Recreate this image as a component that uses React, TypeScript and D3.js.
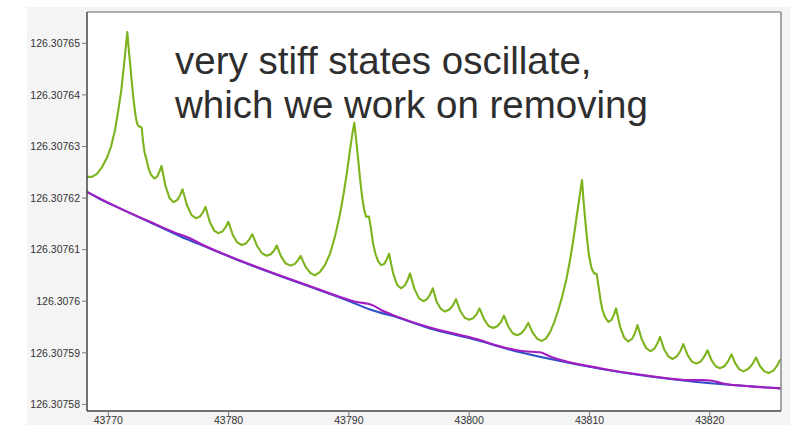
import React from "react";
import * as d3 from "d3";

// ---- data ----
const xTicks = [43770, 43780, 43790, 43800, 43810, 43820];
const xTickLabels = ["43770", "43780", "43790", "43800", "43810", "43820"];
const yTicks = [126.30758, 126.30759, 126.3076, 126.30761, 126.30762, 126.30763, 126.30764, 126.30765];
const yTickLabels = ["126.30758", "126.30759", "126.3076", "126.30761", "126.30762", "126.30763", "126.30764", "126.30765"];

const annotation = ["very stiff states oscillate,", "which we work on removing"];

// green (oscillating stiff state)
const greenX = [
  43768.23, 43768.64, 43769.06, 43769.48, 43769.89, 43770.22, 43770.56, 43770.81, 43771.06, 43771.26,
  43771.43, 43771.58, 43771.72, 43771.85, 43771.97, 43772.09, 43772.26, 43772.39, 43772.51, 43772.68,
  43772.78, 43772.88, 43773.01, 43773.18, 43773.34, 43773.55, 43773.84, 43774.05, 43774.26, 43774.42,
  43774.76, 43775.09, 43775.42, 43775.72, 43775.96, 43776.17,
  43776.54, 43776.92, 43777.29, 43777.61, 43777.86, 43778.08,
  43778.43, 43778.80, 43779.14, 43779.48, 43779.74, 43779.98,
  43780.34, 43780.72, 43781.09, 43781.44, 43781.72, 43781.97,
  43782.37, 43782.78, 43783.17, 43783.50, 43783.77, 43784.00,
  43784.38, 43784.76, 43785.15, 43785.49, 43785.75, 43785.99,
  43786.39, 43786.79, 43787.18,
  43787.60, 43788.01, 43788.43, 43788.85, 43789.26, 43789.59, 43789.84, 43790.09, 43790.30, 43790.45,
  43790.59, 43790.76, 43790.92, 43791.09, 43791.26, 43791.42, 43791.67, 43791.84, 43792.00, 43792.21,
  43792.42, 43792.67, 43792.92, 43793.13, 43793.34,
  43793.67, 43794.00, 43794.33, 43794.63, 43794.87, 43795.08,
  43795.45, 43795.82, 43796.19, 43796.50, 43796.75, 43796.97,
  43797.31, 43797.65, 43797.99, 43798.36, 43798.65, 43798.90,
  43799.26, 43799.63, 43799.99, 43800.33, 43800.62, 43800.86,
  43801.24, 43801.62, 43802.01, 43802.36, 43802.65, 43802.89,
  43803.25, 43803.62, 43803.98, 43804.35, 43804.65, 43804.91,
  43805.28, 43805.66, 43806.03,
  43806.39, 43806.72, 43807.05, 43807.38, 43807.72, 43808.05, 43808.34, 43808.63, 43808.88, 43809.13, 43809.38,
  43809.50, 43809.63, 43809.79, 43809.96, 43810.17, 43810.38, 43810.60, 43810.75, 43810.92, 43811.08,
  43811.29, 43811.57, 43811.83, 43812.04, 43812.21,
  43812.55, 43812.89, 43813.23, 43813.54, 43813.78, 43813.99,
  43814.35, 43814.72, 43815.07, 43815.39, 43815.64, 43815.86,
  43816.20, 43816.56, 43816.90, 43817.26, 43817.55, 43817.80,
  43818.15, 43818.51, 43818.86, 43819.24, 43819.55, 43819.81,
  43820.14, 43820.49, 43820.83, 43821.22, 43821.53, 43821.81,
  43822.13, 43822.46, 43822.79, 43823.21, 43823.54, 43823.84,
  43824.18, 43824.54, 43824.88, 43825.27, 43825.57, 43825.84,
];
const greenY = [
  126.3076241, 126.3076241, 126.3076247, 126.307626, 126.3076278, 126.3076299, 126.3076332, 126.3076367, 126.3076405, 126.3076448,
  126.3076487, 126.3076522, 126.3076483, 126.3076452, 126.3076421, 126.3076392, 126.3076361, 126.3076345, 126.3076339, 126.3076338,
  126.3076336, 126.3076312, 126.3076289, 126.3076274, 126.3076258, 126.3076245, 126.3076238, 126.3076241, 126.3076252, 126.3076262,
  126.3076223, 126.30762, 126.3076192, 126.3076196, 126.3076205, 126.3076217,
  126.3076186, 126.3076167, 126.3076161, 126.3076164, 126.3076172, 126.3076183,
  126.3076154, 126.3076137, 126.3076132, 126.3076135, 126.3076143, 126.3076154,
  126.3076129, 126.3076114, 126.3076109, 126.3076112, 126.307612, 126.307613,
  126.3076107, 126.3076093, 126.3076088, 126.3076091, 126.3076098, 126.3076108,
  126.3076086, 126.3076073, 126.3076069, 126.3076072, 126.3076079, 126.3076088,
  126.3076067, 126.3076055, 126.307605,
  126.3076057, 126.307607, 126.3076092, 126.3076126, 126.3076169, 126.3076212, 126.307625, 126.3076293, 126.3076326, 126.3076346,
  126.3076316, 126.3076278, 126.3076239, 126.3076204, 126.3076179, 126.3076164, 126.3076164, 126.307614, 126.3076113, 126.3076092,
  126.3076078, 126.307607, 126.3076072, 126.307608, 126.3076092,
  126.3076055, 126.3076032, 126.3076025, 126.307603, 126.307604, 126.3076054,
  126.3076024, 126.3076006, 126.3076, 126.3076004, 126.3076013, 126.3076025,
  126.3075998, 126.3075985, 126.307598, 126.3075984, 126.3075992, 126.3076004,
  126.3075981, 126.3075968, 126.3075964, 126.3075967, 126.3075975, 126.3075986,
  126.3075965, 126.3075952, 126.3075948, 126.3075952, 126.307596, 126.3075972,
  126.3075951, 126.3075938, 126.3075934, 126.3075938, 126.3075947, 126.3075958,
  126.3075939, 126.3075927, 126.3075923,
  126.3075928, 126.307594, 126.3075958, 126.3075981, 126.3076008, 126.3076039, 126.3076074, 126.3076115, 126.3076155, 126.3076196, 126.3076235,
  126.3076196, 126.3076161, 126.3076123, 126.3076088, 126.3076064, 126.3076054, 126.3076053, 126.3076029, 126.3076002, 126.3075983,
  126.3075969, 126.307596, 126.3075964, 126.3075974, 126.3075986,
  126.307595, 126.3075929, 126.3075922, 126.3075927, 126.3075938, 126.3075954,
  126.3075926, 126.3075909, 126.3075903, 126.3075908, 126.3075918, 126.3075931,
  126.3075907, 126.3075893, 126.3075888, 126.3075893, 126.3075903, 126.3075917,
  126.3075896, 126.3075883, 126.3075879, 126.3075883, 126.3075893, 126.3075905,
  126.3075886, 126.3075874, 126.307587, 126.3075874, 126.3075884, 126.3075897,
  126.3075879, 126.3075868, 126.3075864, 126.3075869, 126.3075878, 126.3075891,
  126.3075874, 126.3075864, 126.3075861, 126.3075865, 126.3075874, 126.3075886,
];

// blue (reference solution)
const blueX = [
  43768.23, 43769.31, 43770.97, 43773.47, 43775.96, 43778.45, 43780.95, 43784.27, 43787.02, 43789.84,
  43791.76, 43794.25, 43796.74, 43800.07, 43804.23, 43807.55, 43810.88, 43815.03, 43820.02, 43823.35, 43825.92,
];
const blueY = [
  126.3076212, 126.3076198, 126.307618, 126.3076153, 126.3076126, 126.3076102, 126.3076078, 126.3076049, 126.3076026, 126.3076002,
  126.3075984, 126.3075967, 126.3075947, 126.3075928, 126.3075901, 126.3075884, 126.3075869, 126.3075854, 126.3075841, 126.3075835, 126.3075831,
];

// purple (smooth solver)
const purpleX = [
  43768.23, 43770.97, 43773.47, 43775.54, 43776.79, 43777.62, 43780.95, 43784.27, 43787.02, 43789.84,
  43790.76, 43791.59, 43792.09, 43792.75, 43793.58, 43796.74, 43800.07, 43804.23, 43805.22, 43805.89,
  43806.72, 43810.88, 43815.03, 43818.36, 43819.44, 43820.19, 43821.02, 43823.35, 43825.92,
];
const purpleY = [
  126.3076212, 126.307618, 126.3076154, 126.3076133, 126.3076122, 126.3076112, 126.3076079, 126.307605, 126.3076027, 126.3076004,
  126.3075998, 126.3075995, 126.3075991, 126.3075982, 126.3075974, 126.3075949, 126.307593, 126.3075904, 126.3075902, 126.3075901,
  126.3075893, 126.307587, 126.3075855, 126.3075847, 126.3075847, 126.3075846, 126.3075841, 126.3075835, 126.3075831,
];

// ---- layout ----
const W = 790;
const H = 425;
const plot = { left: 87, top: 12, right: 781, bottom: 411 };

export default function App() {
  const x = d3.scaleLinear().domain([43768.23, 43825.92]).range([plot.left, plot.right]);
  const y = d3.scaleLinear().domain([126.30758, 126.30765]).range([404.4, 43.3]);

  const mk = (xs: number[], ys: number[], curve: d3.CurveFactory) =>
    d3
      .line<number>()
      .x((_, i) => x(xs[i]))
      .y((d) => y(d))
      .curve(curve)(ys) || "";

  const greenPath = mk(greenX, greenY, d3.curveLinear);
  const bluePath = mk(blueX, blueY, d3.curveMonotoneX);
  const purplePath = mk(purpleX, purpleY, d3.curveMonotoneX);

  const font = "'Liberation Sans', Arial, Helvetica, sans-serif";

  return (
    <svg
      width={W}
      height={H}
      style={{ position: "absolute", left: 0, top: 0, background: "#ffffff" }}
    >
      <rect x={27} y={7} width={W - 27} height={H - 7} fill="#f4f4f4" />
      <defs>
        <clipPath id="plotClip">
          <rect x={plot.left} y={plot.top} width={plot.right - plot.left} height={plot.bottom - plot.top} />
        </clipPath>
      </defs>
      <rect
        x={plot.left}
        y={plot.top}
        width={plot.right - plot.left}
        height={plot.bottom - plot.top}
        fill="#ffffff"
      />
      {/* annotation */}
      <g fontFamily={font} fontSize={38.5} fill="#2e2e2e">
        <text x={175} y={74}>{annotation[0]}</text>
        <text x={175} y={118}>{annotation[1]}</text>
      </g>
      {/* lines */}
      <g clipPath="url(#plotClip)" fill="none" strokeLinejoin="round" strokeLinecap="round">
        <path d={bluePath} stroke="#2d4fc8" strokeWidth={2} />
        <path d={purplePath} stroke="#a21ec2" strokeWidth={2.1} />
        <path d={greenPath} stroke="#7db31c" strokeWidth={2.1} />
      </g>
      {/* frame */}
      <line x1={plot.left} y1={plot.top} x2={plot.right} y2={plot.top} stroke="#666" strokeWidth={1.2} />
      <line x1={plot.right} y1={plot.top} x2={plot.right} y2={plot.bottom} stroke="#888" strokeWidth={1.5} />
      <line x1={plot.left} y1={plot.top} x2={plot.left} y2={plot.bottom} stroke="#444" strokeWidth={1.5} />
      <line x1={plot.left} y1={plot.bottom} x2={plot.right} y2={plot.bottom} stroke="#444" strokeWidth={1.5} />
      {/* axes */}
      <g fontFamily={font} fontSize={10.5} fill="#333">
        {yTicks.map((t, i) => (
          <g key={"y" + i}>
            <line x1={plot.left - 5} x2={plot.left} y1={y(t)} y2={y(t)} stroke="#777" />
            <text x={plot.left - 7} y={y(t)} dy="0.36em" textAnchor="end">
              {yTickLabels[i]}
            </text>
          </g>
        ))}
        {xTicks.map((t, i) => (
          <g key={"x" + i}>
            <line x1={x(t)} x2={x(t)} y1={plot.bottom} y2={plot.bottom + 5} stroke="#777" />
            <text x={x(t)} y={423.5} textAnchor="middle">
              {xTickLabels[i]}
            </text>
          </g>
        ))}
      </g>
    </svg>
  );
}
